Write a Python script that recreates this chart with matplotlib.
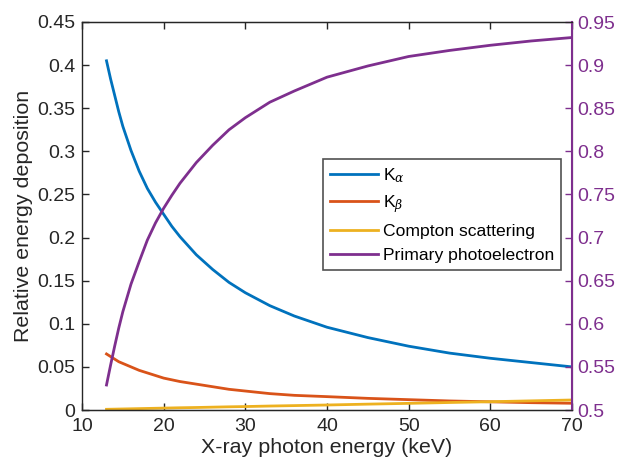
import matplotlib
matplotlib.use("Agg")
import matplotlib.pyplot as plt

plt.rcParams['font.family'] = ['Liberation Sans', 'DejaVu Sans']
plt.rcParams['mathtext.fontset'] = 'custom'
plt.rcParams['mathtext.it'] = 'DejaVu Serif:italic'

# Photon energy (keV)
energy = [13, 13.5, 14, 14.5, 15, 16, 17, 18, 19, 20, 21, 22, 24, 26, 28, 30,
          33, 36, 40, 45, 50, 55, 60, 65, 70]

# Relative energy deposition (left axis)
k_alpha = [0.405, 0.384, 0.365, 0.346, 0.329, 0.301, 0.277, 0.257, 0.241, 0.227,
           0.213, 0.201, 0.180, 0.163, 0.148, 0.136, 0.121, 0.109, 0.096, 0.084,
           0.074, 0.066, 0.060, 0.055, 0.050]
k_beta = [0.065, 0.062, 0.059, 0.056, 0.054, 0.050, 0.046, 0.043, 0.040, 0.037,
          0.035, 0.033, 0.030, 0.027, 0.024, 0.022, 0.019, 0.017, 0.0155, 0.0135,
          0.012, 0.0105, 0.0095, 0.0085, 0.0078]
compton = [0.0008, 0.0009, 0.0010, 0.0011, 0.0012, 0.0014, 0.0016, 0.0018, 0.0020, 0.0022,
           0.0024, 0.0026, 0.0029, 0.0033, 0.0037, 0.0040, 0.0046, 0.0051, 0.0058, 0.0068,
           0.0077, 0.0087, 0.0096, 0.0106, 0.0116]

# Primary photoelectron (right axis)
photoelectron = [0.529, 0.552, 0.574, 0.595, 0.614, 0.646, 0.672, 0.697, 0.717, 0.734,
                 0.749, 0.763, 0.787, 0.807, 0.825, 0.839, 0.857, 0.870, 0.886, 0.899,
                 0.910, 0.917, 0.923, 0.928, 0.932]

c_blue = '#0072BD'
c_orange = '#D95319'
c_yellow = '#EDB120'
c_purple = '#7E2F8E'
c_axis = '#262626'

fig = plt.figure(figsize=(6.2, 4.69), dpi=100)
ax = fig.add_axes([82/620, 59/469, 490/620, 388/469])
ax2 = ax.twinx()

lw = 2.0
l1, = ax.plot(energy, k_alpha, color=c_blue, lw=lw, label=r'K$_{\alpha}$')
l2, = ax.plot(energy, k_beta, color=c_orange, lw=lw, label=r'K$_{\beta}$')
l3, = ax.plot(energy, compton, color=c_yellow, lw=lw, label='Compton scattering')
l4, = ax2.plot(energy, photoelectron, color=c_purple, lw=lw, label='Primary photoelectron')

ax.set_xlim(10, 70)
ax.set_ylim(0, 0.45)
ax2.set_ylim(0.5, 0.95)
ax.set_xticks(range(10, 71, 10))
ax.set_yticks([i * 0.05 for i in range(10)])
ax.set_yticklabels(['0', '0.05', '0.1', '0.15', '0.2', '0.25', '0.3', '0.35', '0.4', '0.45'])
ax2.set_yticks([0.5 + i * 0.05 for i in range(10)])
ax2.set_yticklabels(['0.5', '0.55', '0.6', '0.65', '0.7', '0.75', '0.8', '0.85', '0.9', '0.95'])

fs = 14
ax.tick_params(axis='x', direction='in', top=True, labelsize=fs, colors=c_axis,
               length=5, width=1, pad=6)
ax.tick_params(axis='y', direction='in', labelsize=fs, colors=c_axis, length=5, width=1, pad=5)
ax2.tick_params(axis='y', direction='in', labelsize=fs, colors=c_purple, length=5, width=1, pad=4)

for s in ['left', 'top', 'bottom']:
    ax.spines[s].set_color(c_axis)
    ax.spines[s].set_linewidth(1.0)
ax2.spines['right'].set_color(c_purple)
ax2.spines['right'].set_linewidth(1.5)
ax2.spines['left'].set_visible(False)
ax2.spines['top'].set_color(c_axis)
ax2.spines['bottom'].set_color(c_axis)

ax.set_xlabel('X-ray photon energy (keV)', fontsize=15.4, color=c_axis, labelpad=2)
ax.set_ylabel('Relative energy deposition', fontsize=15.4, color=c_axis, labelpad=3)

leg = ax2.legend(handles=[l1, l2, l3, l4], loc='upper right',
                 bbox_to_anchor=(0.9776, 0.647), fontsize=12.6, frameon=True,
                 fancybox=False, edgecolor=c_axis, handlelength=2.7,
                 labelspacing=0.5, borderpad=0.4, handletextpad=0.3,
                 borderaxespad=0)
leg.get_frame().set_linewidth(1.2)

fig.savefig('out.png', dpi=100, facecolor='white')
